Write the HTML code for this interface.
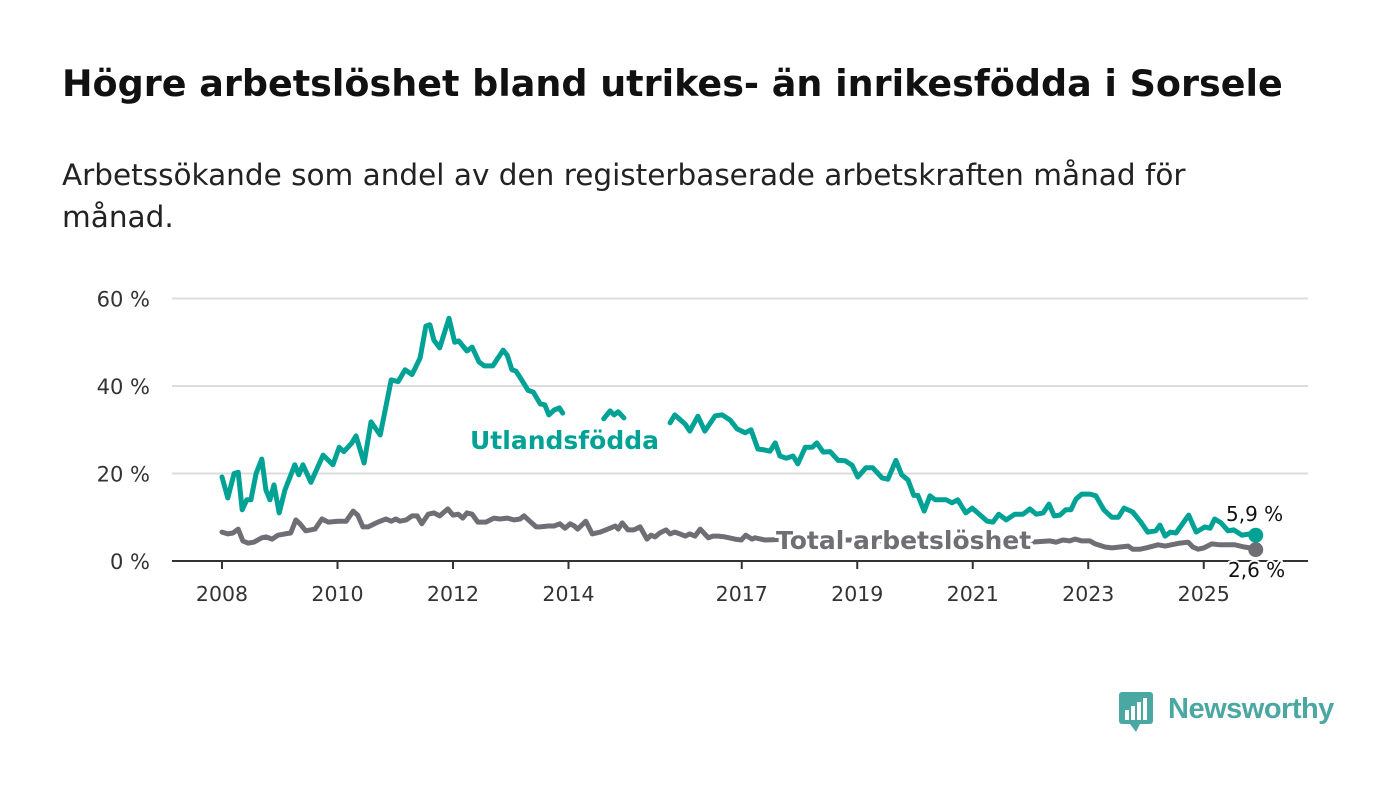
<!DOCTYPE html>
<html><head><meta charset="utf-8"><style>
body{margin:0;background:#fff;width:1400px;height:794px;overflow:hidden;font-family:"DejaVu Sans","Liberation Sans",sans-serif}
#t{position:absolute;left:62px;top:62px;font-size:36.5px;font-weight:bold;color:#111;margin:0;white-space:nowrap}
#s{position:absolute;left:62px;top:154px;font-size:29.5px;color:#222;line-height:42px;width:1240px;margin:0}
svg{position:absolute;left:0;top:0}
</style></head><body>
<h1 id="t">Högre arbetslöshet bland utrikes- än inrikesfödda i Sorsele</h1>
<p id="s">Arbetssökande som andel av den registerbaserade arbetskraften månad för månad.</p>
<svg id="c" width="1400" height="794"></svg>
<script>
const tDates=[2008.00,2008.10,2008.21,2008.28,2008.35,2008.43,2008.50,2008.59,2008.69,2008.76,2008.83,2008.90,2008.99,2009.09,2009.26,2009.33,2009.40,2009.54,2009.75,2009.92,2010.03,2010.11,2010.25,2010.32,2010.46,2010.58,2010.74,2010.93,2011.05,2011.17,2011.29,2011.43,2011.53,2011.60,2011.67,2011.77,2011.93,2012.03,2012.10,2012.24,2012.33,2012.45,2012.54,2012.69,2012.87,2012.94,2013.02,2013.09,2013.16,2013.30,2013.39,2013.51,2013.59,2013.66,2013.75,2013.84,2013.90,2014.03,2014.20,2014.41,2014.61,2014.72,2014.79,2014.86,2014.96,2015.06,2015.24,2015.41,2015.58,2015.76,2015.84,2016.02,2016.10,2016.24,2016.36,2016.54,2016.66,2016.80,2016.92,2017.06,2017.16,2017.28,2017.39,2017.49,2017.58,2017.66,2017.77,2017.89,2017.97,2018.10,2018.22,2018.30,2018.41,2018.53,2018.67,2018.79,2018.91,2019.01,2019.15,2019.27,2019.43,2019.53,2019.67,2019.77,2019.88,2019.98,2020.05,2020.16,2020.26,2020.35,2020.54,2020.64,2020.74,2020.88,2020.99,2021.13,2021.25,2021.35,2021.45,2021.58,2021.73,2021.87,2021.99,2022.10,2022.22,2022.32,2022.41,2022.51,2022.61,2022.70,2022.79,2022.89,2023.03,2023.13,2023.27,2023.41,2023.52,2023.62,2023.77,2023.91,2024.03,2024.17,2024.24,2024.33,2024.42,2024.52,2024.74,2024.87,2025.02,2025.11,2025.19,2025.30,2025.42,2025.52,2025.66,2025.80,2025.90];
const tVals=[19.2,14.4,20,20.3,11.7,14,14,20,23.3,16.2,14,17.4,11,16.2,22,19.7,22,18,24.2,22,26,25,27,28.6,22.4,31.8,28.8,41.4,41,43.7,42.6,46.4,53.7,54,50.5,48.7,55.5,50,50.3,48,48.9,45.5,44.6,44.6,48.2,47,43.7,43.4,42,39,38.6,35.9,35.7,33.4,34.5,35,33.8,null,null,null,32.5,34.3,33.4,34.1,32.7,null,null,null,null,31.6,33.4,31.3,29.7,33.1,29.7,33.2,33.4,32.2,30.2,29.3,30,25.6,25.4,25.1,27,24,23.5,24,22.2,26,26,27,24.9,25,23,22.9,21.9,19.2,21.3,21.3,19,18.7,23,19.7,18.5,15,15,11.4,14.9,14,14,13.3,14,11,12.1,10.5,9.1,8.9,10.7,9.4,10.7,10.7,11.9,10.7,11,13,10.3,10.5,11.7,11.7,14.2,15.3,15.3,14.9,11.7,10,10,12.1,11.2,8.9,6.6,6.9,8.2,5.7,6.6,6.4,10.5,6.6,7.8,7.5,9.6,8.7,6.9,7.1,5.9,6.2,5.9];
const gDates=[2008.00,2008.10,2008.19,2008.28,2008.36,2008.45,2008.55,2008.69,2008.76,2008.87,2008.97,2009.09,2009.19,2009.28,2009.35,2009.45,2009.61,2009.73,2009.84,2010.01,2010.15,2010.27,2010.35,2010.44,2010.53,2010.70,2010.84,2010.93,2011.01,2011.08,2011.19,2011.29,2011.38,2011.46,2011.57,2011.67,2011.77,2011.91,2012.00,2012.09,2012.17,2012.24,2012.33,2012.43,2012.57,2012.71,2012.81,2012.94,2013.06,2013.16,2013.23,2013.33,2013.44,2013.51,2013.65,2013.75,2013.85,2013.94,2014.03,2014.10,2014.16,2014.30,2014.41,2014.55,2014.72,2014.81,2014.86,2014.93,2015.03,2015.13,2015.24,2015.36,2015.43,2015.50,2015.58,2015.69,2015.76,2015.84,2015.93,2016.02,2016.10,2016.19,2016.28,2016.42,2016.50,2016.59,2016.71,2016.88,2016.99,2017.07,2017.18,2017.23,2017.40,2017.84,2018.35,2018.87,2019.39,2019.91,2020.43,2020.95,2021.47,2021.99,2022.34,2022.44,2022.56,2022.68,2022.77,2022.89,2023.03,2023.12,2023.29,2023.41,2023.55,2023.69,2023.77,2023.90,2024.00,2024.21,2024.33,2024.59,2024.73,2024.81,2024.90,2025.00,2025.14,2025.28,2025.40,2025.54,2025.70,2025.80,2025.90];
const gVals=[6.6,6.2,6.4,7.3,4.6,4.1,4.3,5.3,5.5,5.0,5.9,6.2,6.4,9.4,8.5,6.9,7.3,9.6,8.9,9.1,9.1,11.4,10.5,7.8,7.8,8.9,9.6,9.1,9.6,9.1,9.4,10.3,10.3,8.5,10.7,11,10.3,11.9,10.5,10.7,9.8,11,10.7,8.9,8.9,9.8,9.6,9.8,9.4,9.6,10.3,9.1,7.8,7.8,8,8,8.5,7.5,8.5,8,7.3,9.1,6.2,6.6,7.5,8,7.3,8.7,7.1,7.1,7.8,5,5.9,5.5,6.4,7.1,6.2,6.6,6.2,5.7,6.2,5.7,7.3,5.3,5.7,5.7,5.5,5,4.8,5.9,5,5.3,4.8,5,4.8,4.8,4.6,4.8,4.1,4.3,4.1,4.3,4.6,4.3,4.8,4.6,5,4.6,4.6,3.9,3.2,3,3.2,3.4,2.7,2.7,3,3.7,3.4,4.1,4.3,3.2,2.7,3,3.9,3.7,3.7,3.7,3.2,3,2.6];
const yTicks=[0,20,40,60];
const yTickLabels=["0 %","20 %","40 %","60 %"];
const xTicks=[2008,2010,2012,2014,2017,2019,2021,2023,2025];
const NS="http://www.w3.org/2000/svg";
const svg=document.getElementById('c');
const X=d=>222+(d-2008)*57.75;
const Y=v=>561-v*4.375;
function mk(tag,at,par){const e=document.createElementNS(NS,tag);for(const k in at)e.setAttribute(k,at[k]);(par||svg).appendChild(e);return e;}
yTicks.forEach((v,i)=>{
 if(v>0){const g=mk('line',{x1:172,x2:1308,y1:Y(v),y2:Y(v),stroke:'#dcdcdc','stroke-width':2});
 
 }
 const t=mk('text',{x:150,y:Y(v)+8,'text-anchor':'end','font-size':21,fill:'#333'});
 
 
 t.textContent=yTickLabels[i];
});
const ax=mk('line',{x1:172,x2:1308,y1:561,y2:561,stroke:'#333','stroke-width':2});


xTicks.forEach(y=>{
 const l=mk('line',{x1:X(y),x2:X(y),y1:561,y2:569,stroke:'#333','stroke-width':2});
 
 
 const t=mk('text',{x:X(y),y:601,'text-anchor':'middle','font-size':20.5,fill:'#333'});
 
 
 t.textContent=y;
});
function line(ds,vs,col,name){
 const n=Math.min(ds.length,vs.length);let d='';let pen=false;
 for(let i=0;i<n;i++){if(vs[i]===null){pen=false;continue;}d+=(pen?'L':'M')+X(ds[i]).toFixed(1)+','+Y(vs[i]).toFixed(1);pen=true;}
 const p=mk('path',{d:d,fill:'none',stroke:col,'stroke-width':5,'stroke-linejoin':'round','stroke-linecap':'round'});
 
 
 const c=mk('circle',{cx:X(ds[n-1]),cy:Y(vs[n-1]),r:7.5,fill:col});
 
 
}
line(gDates,gVals,'#6f6e75','total-line');
line(tDates,tVals,'#00a295','foreign-born-line');
function lab(x,y,txt,col,sz,bold,name){
 const t=mk('text',{x:x,y:y,'font-size':sz,'font-weight':bold?'bold':'normal',fill:col,stroke:'#fff','stroke-width':bold?7:4,'paint-order':'stroke','stroke-linejoin':'round'});
 
 
 t.textContent=txt;
}
lab(470,449,'Utlandsfödda','#00a295',25,true,'foreign-born-label');
lab(776,549,'Total arbetslöshet','#6f6e75',25,true,'total-label');
lab(1226,521,'5,9 %','#111',20,false,'foreign-born-end-value');
lab(1228,577,'2,6 %','#111',20,false,'total-end-value');
</script>
<div style="position:absolute;left:1118px;top:690px;height:44px">
<svg width="36" height="44" style="position:absolute;left:0;top:0"><rect x="1" y="2" width="34" height="32" rx="3" fill="#4aa7a1"/><path d="M12 34 L18 42 L22 34Z" fill="#4aa7a1"/><rect x="7" y="20" width="4" height="10" fill="#fff"/><rect x="13" y="16" width="4" height="14" fill="#fff"/><rect x="19" y="12" width="4" height="18" fill="#fff"/><rect x="25" y="8" width="4" height="22" fill="#fff"/></svg>
<span style="position:absolute;left:50px;top:3px;font-family:'Liberation Sans',sans-serif;font-size:29px;font-weight:bold;color:#4aa7a1;white-space:nowrap;letter-spacing:-0.5px">Newsworthy</span>
</div>
</body></html>
